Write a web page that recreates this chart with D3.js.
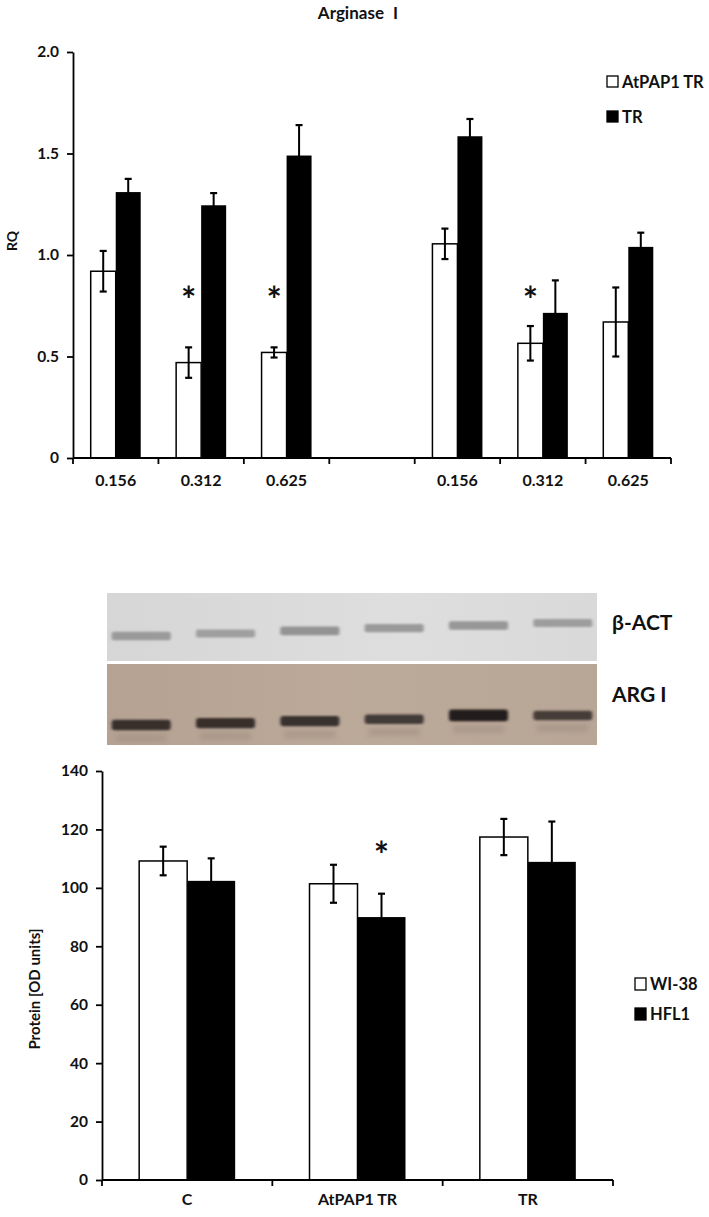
<!DOCTYPE html>
<html>
<head>
<meta charset="utf-8">
<script src="https://cdn.jsdelivr.net/npm/d3@7/dist/d3.min.js"></script>
<style>
  html, body { margin: 0; padding: 0; background: #fff; }
  svg { display: block; }
  text { font-family: Lato, "Open Sans", sans-serif; font-weight: 700; fill: #111; }
</style>
</head>
<body>
<svg id="chart" width="709" height="1217"></svg>
<script>
// ---------- DATA ----------
// Top chart: Arginase I RQ
const topTitle = "Arginase I";
const topCategories = ["0.156", "0.312", "0.625", "", "0.156", "0.312", "0.625"];
const topSeries = ["AtPAP1 TR", "TR"];
const topAtPAP1 = [0.92, 0.47, 0.52, null, 1.055, 0.565, 0.67];
const topAtPAP1Err = [0.10, 0.075, 0.025, null, 0.075, 0.085, 0.17];
const topTR = [1.31, 1.245, 1.49, null, 1.585, 0.715, 1.04];
const topTRErr = [0.065, 0.06, 0.15, null, 0.085, 0.16, 0.07];
const topSignif = [false, true, true, false, false, true, false]; // asterisk over AtPAP1 TR bar
const topYTicks = [0, 0.5, 1.0, 1.5, 2.0];
const topYTickLabels = ["0", "0.5", "1.0", "1.5", "2.0"];
const topYLabel = "RQ";

// Western blot
const blotLanes = [1, 2, 3, 4, 5, 6];
const actIntensity = [0.55, 0.50, 0.62, 0.55, 0.58, 0.52];
const argIntensity = [0.80, 0.80, 0.78, 0.70, 0.95, 0.68];
const blotLabels = ["β-ACT", "ARG I"];

// Bottom chart: Protein [OD units]
const botCategories = ["C", "AtPAP1 TR", "TR"];
const botSeries = ["WI-38", "HFL1"];
const botWI38 = [109.2, 101.4, 117.4];
const botWI38Err = [4.9, 6.5, 6.2];
const botHFL1 = [102.4, 90.0, 108.9];
const botHFL1Err = [7.7, 8.0, 13.8];
const botSignif = [false, true, false]; // asterisk over HFL1 bar
const botYTicks = [0, 20, 40, 60, 80, 100, 120, 140];
const botYLabel = "Protein [OD units]";

// ---------- DRAW ----------
const svg = d3.select("#chart");
const defs = svg.append("defs");
defs.append("filter").attr("id", "blur1").attr("x", "-20%").attr("y", "-100%").attr("width", "140%").attr("height", "300%")
  .append("feGaussianBlur").attr("stdDeviation", "1.6 1.1");
defs.append("filter").attr("id", "blur2").attr("x", "-20%").attr("y", "-100%").attr("width", "140%").attr("height", "300%")
  .append("feGaussianBlur").attr("stdDeviation", "2.5 2");

function errorBar(g, cx, yTop, yBot, capW) {
  g.append("line").attr("x1", cx).attr("x2", cx).attr("y1", yTop).attr("y2", yBot)
    .attr("stroke", "#000").attr("stroke-width", 2);
  [yTop, yBot].forEach(yy => g.append("line").attr("x1", cx - capW / 2).attr("x2", cx + capW / 2)
    .attr("y1", yy).attr("y2", yy).attr("stroke", "#000").attr("stroke-width", 2.2));
}
function asterisk(g, cx, cy) {
  g.append("text").attr("x", cx).attr("y", cy + 21).attr("text-anchor", "middle")
    .attr("font-size", 36).attr("font-weight", 400).attr("font-family", "DejaVu Sans").text("*");
}

// ===== Top chart =====
{
  const slots = topCategories.map((c, i) => i);
  const x = d3.scaleBand().domain(slots).range([73, 671]).padding(0);
  const y = d3.scaleLinear().domain([0, 2]).range([458, 52]);
  const barW = 25;
  const xs = d3.scaleBand().domain(topSeries).range([-barW, barW]);
  const g = svg.append("g");

  svg.append("text").attr("x", 358).attr("y", 19).attr("text-anchor", "middle")
    .attr("font-size", 17).attr("word-spacing", 5).text(topTitle);

  const yAxis = d3.axisLeft(y).tickValues(topYTicks).tickFormat((d, i) => topYTickLabels[i])
    .tickSize(6).tickSizeOuter(0).tickPadding(8);
  const ya = g.append("g").attr("transform", "translate(73,0)").call(yAxis);
  ya.select(".domain").attr("stroke", "#000").attr("stroke-width", 1.8);
  ya.selectAll(".tick line").attr("stroke", "#000").attr("stroke-width", 1.8);
  ya.selectAll(".tick text").attr("font-size", 15.5).attr("font-family", "Lato").attr("font-weight", 700).attr("fill", "#111");

  svg.append("text").attr("transform", `translate(17,241) rotate(-90)`).attr("text-anchor", "middle")
    .attr("font-size", 14).text(topYLabel);

  const sigLevelY = y(0.82);
  const cx = i => x(i) + x.bandwidth() / 2;
  slots.forEach(i => {
    if (topAtPAP1[i] == null) return;
    const c = cx(i);
    g.append("rect").attr("x", c + xs("TR")).attr("width", xs.bandwidth())
      .attr("y", y(topTR[i])).attr("height", y(0) - y(topTR[i])).attr("fill", "#000");
    g.append("rect").attr("x", c + xs("AtPAP1 TR")).attr("width", xs.bandwidth())
      .attr("y", y(topAtPAP1[i])).attr("height", y(0) - y(topAtPAP1[i]))
      .attr("fill", "#fff").attr("stroke", "#000").attr("stroke-width", 1.5);
    const cw = c + xs("AtPAP1 TR") + xs.bandwidth() / 2;
    const cb = c + xs("TR") + xs.bandwidth() / 2;
    errorBar(g, cw, y(topAtPAP1[i] + topAtPAP1Err[i]), y(topAtPAP1[i] - topAtPAP1Err[i]), 7);
    errorBar(g, cb, y(topTR[i] + topTRErr[i]), y(topTR[i] - topTRErr[i]), 7);
    if (topSignif[i]) asterisk(g, cw, sigLevelY);
  });

  g.append("line").attr("x1", 73).attr("x2", 671).attr("y1", y(0)).attr("y2", y(0))
    .attr("stroke", "#000").attr("stroke-width", 1.8);
  const bounds = slots.map(i => x(i)).concat([x.range()[1]]);
  bounds.forEach(b => g.append("line").attr("x1", b).attr("x2", b).attr("y1", y(0)).attr("y2", y(0) + 6)
    .attr("stroke", "#000").attr("stroke-width", 1.8));
  slots.forEach(i => {
    if (!topCategories[i]) return;
    g.append("text").attr("x", cx(i)).attr("y", 486).attr("text-anchor", "middle")
      .attr("font-size", 16).text(topCategories[i]);
  });

  const lg = svg.append("g");
  const legY = [82, 117];
  topSeries.forEach((s, i) => {
    lg.append("rect").attr("x", 607).attr("y", legY[i] - 6).attr("width", 11).attr("height", 11)
      .attr("fill", i === 0 ? "#fff" : "#000").attr("stroke", "#000").attr("stroke-width", 1.3);
    lg.append("text").attr("x", 622).attr("y", legY[i] + 6).attr("font-size", 16.5).text(s);
  });
}

// ===== Western blot =====
{
  const g = svg.append("g");
  const xl = d3.scaleBand().domain(blotLanes).range([110, 594]).paddingInner(0.3).paddingOuter(0.02);
  const grad1 = defs.append("linearGradient").attr("id", "gTop").attr("x1", 0).attr("x2", 1);
  grad1.append("stop").attr("offset", "0%").attr("stop-color", "#d6d6d6");
  grad1.append("stop").attr("offset", "60%").attr("stop-color", "#dedede");
  grad1.append("stop").attr("offset", "100%").attr("stop-color", "#d9d9d9");
  g.append("rect").attr("x", 107).attr("y", 593).attr("width", 490).attr("height", 68).attr("fill", "url(#gTop)");
  const grad2 = defs.append("linearGradient").attr("id", "gBot").attr("x1", 0).attr("x2", 1);
  grad2.append("stop").attr("offset", "0%").attr("stop-color", "#b5a293");
  grad2.append("stop").attr("offset", "50%").attr("stop-color", "#bba999");
  grad2.append("stop").attr("offset", "100%").attr("stop-color", "#b8a697");
  g.append("rect").attr("x", 107).attr("y", 664).attr("width", 490).attr("height", 81).attr("fill", "url(#gBot)");

  const shade = d3.scaleLinear().domain([0, 1]).range(["#d0d0d0", "#6e6e6e"]);
  const shadeArg = d3.scaleLinear().domain([0, 1]).range(["#9a8a7e", "#1e1818"]);
  blotLanes.forEach((l, i) => {
    const bx = xl(l), bw = xl.bandwidth();
    const yc = 636 - i * 2.6;
    const th = 5 + actIntensity[i] * 6;
    g.append("rect").attr("x", bx).attr("y", yc - th / 2).attr("width", bw).attr("height", th)
      .attr("rx", 2).attr("fill", shade(actIntensity[i])).attr("filter", "url(#blur1)");
    const yc2 = 725 - i * 1.9 - (i === 4 ? 2 : 0);
    const th2 = 4 + argIntensity[i] * 8;
    g.append("rect").attr("x", bx).attr("y", yc2 - th2 / 2).attr("width", bw).attr("height", th2)
      .attr("rx", 3).attr("fill", shadeArg(argIntensity[i])).attr("filter", "url(#blur1)");
    g.append("rect").attr("x", bx + 4).attr("y", yc2 + th2 / 2 + 4).attr("width", bw - 8).attr("height", 8)
      .attr("fill", "#9f8d80").attr("opacity", 0.5).attr("filter", "url(#blur2)");
  });

  g.append("text").attr("x", 612).attr("y", 630).attr("font-size", 21).text(blotLabels[0]);
  g.append("text").attr("x", 612).attr("y", 702).attr("font-size", 21).text(blotLabels[1]);
}

// ===== Bottom chart =====
{
  const x = d3.scaleBand().domain(botCategories).range([102, 613]).padding(0);
  const y = d3.scaleLinear().domain([0, 140]).range([1180, 771]);
  const barW = 48;
  const xs = d3.scaleBand().domain(botSeries).range([-barW, barW]);
  const g = svg.append("g");

  const yAxis = d3.axisLeft(y).tickValues(botYTicks).tickFormat(d3.format("d"))
    .tickSize(6).tickSizeOuter(0).tickPadding(8);
  const ya = g.append("g").attr("transform", "translate(102,0)").call(yAxis);
  ya.select(".domain").attr("stroke", "#000").attr("stroke-width", 1.8);
  ya.selectAll(".tick line").attr("stroke", "#000").attr("stroke-width", 1.8);
  ya.selectAll(".tick text").attr("font-size", 15.5).attr("font-family", "Lato").attr("font-weight", 700).attr("fill", "#111");

  svg.append("text").attr("transform", `translate(40,989) rotate(-90)`).attr("text-anchor", "middle")
    .attr("font-size", 15).text(botYLabel);

  const sigLevelY = y(114);
  const cx = c => x(c) + x.bandwidth() / 2;
  botCategories.forEach((c, i) => {
    const cc = cx(c);
    g.append("rect").attr("x", cc + xs("HFL1")).attr("width", xs.bandwidth())
      .attr("y", y(botHFL1[i])).attr("height", y(0) - y(botHFL1[i])).attr("fill", "#000");
    g.append("rect").attr("x", cc + xs("WI-38")).attr("width", xs.bandwidth())
      .attr("y", y(botWI38[i])).attr("height", y(0) - y(botWI38[i]))
      .attr("fill", "#fff").attr("stroke", "#000").attr("stroke-width", 1.5);
    const cw = cc + xs("WI-38") + xs.bandwidth() / 2;
    const cb = cc + xs("HFL1") + xs.bandwidth() / 2;
    errorBar(g, cw, y(botWI38[i] + botWI38Err[i]), y(botWI38[i] - botWI38Err[i]), 7);
    errorBar(g, cb, y(botHFL1[i] + botHFL1Err[i]), y(botHFL1[i] - botHFL1Err[i]), 7);
    if (botSignif[i]) asterisk(g, cb, sigLevelY);
  });

  g.append("line").attr("x1", 102).attr("x2", 613).attr("y1", y(0)).attr("y2", y(0))
    .attr("stroke", "#000").attr("stroke-width", 1.8);
  const bounds = botCategories.map(c => x(c)).concat([x.range()[1]]);
  bounds.forEach(b => g.append("line").attr("x1", b).attr("x2", b).attr("y1", y(0)).attr("y2", y(0) + 6)
    .attr("stroke", "#000").attr("stroke-width", 1.8));
  botCategories.forEach(c => g.append("text").attr("x", cx(c)).attr("y", 1205).attr("text-anchor", "middle")
    .attr("font-size", 16).text(c));

  const legY = [984, 1014];
  botSeries.forEach((s, i) => {
    g.append("rect").attr("x", 635).attr("y", legY[i] - 6).attr("width", 11).attr("height", 12)
      .attr("fill", i === 0 ? "#fff" : "#000").attr("stroke", "#000").attr("stroke-width", 1.3);
    g.append("text").attr("x", 650).attr("y", legY[i] + 6).attr("font-size", 16.5).text(s);
  });
}
</script>
</body>
</html>
